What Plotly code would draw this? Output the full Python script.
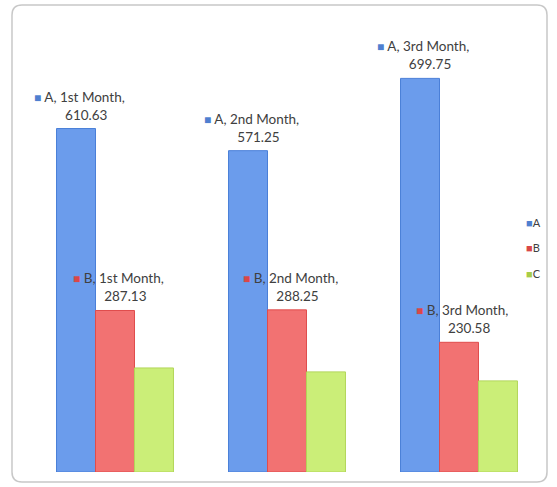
import plotly.graph_objects as go

months = ["1st Month", "2nd Month", "3rd Month"]
series_names = ["A", "B", "C"]
a_vals = [610.63, 571.25, 699.75]
b_vals = [287.13, 288.25, 230.58]
c_vals = [185, 178, 162]
labeled = {"A": True, "B": True, "C": False}

colors = {"A": "#6b9cec", "B": "#f27272", "C": "#cbee78"}
edges = {"A": "#4a7fd8", "B": "#e04c4c", "C": "#b2d65a"}
key_colors = {"A": "#4f7fd0", "B": "#d94848", "C": "#a8cc48"}

W, H = 557, 487
ML, MR, MT, MB = 29, 12, 22, 15
PW, PH = W - ML - MR, H - MT - MB

fig = go.Figure()
vals = {"A": a_vals, "B": b_vals, "C": c_vals}
for name in series_names:
    fig.add_trace(go.Bar(
        x=months, y=vals[name], name=name, showlegend=False,
        marker=dict(color=colors[name], line=dict(color=edges[name], width=1)),
    ))


def px(x, y):
    return (x - ML) / PW, (H - MB - y) / PH


FONT = "Lato, 'Open Sans', sans-serif"
font = dict(family=FONT, size=13.5, color="#404040")
offsets = {"A": -1, "B": 0, "C": 1}
annotations = []
for name in series_names:
    if not labeled[name]:
        continue
    for i, (m, v) in enumerate(zip(months, vals[name])):
        annotations.append(dict(
            x=m, y=v, xref="x", yref="y", yanchor="bottom", xanchor="center",
            xshift=offsets[name] * 39 + 3, yshift=4, showarrow=False,
            text=(f"<span style='color:{key_colors[name]};font-size:12px'>■</span> "
                  f"{name}, {m},<br>\u00a0\u00a0\u00a0\u00a0{v:.2f}"),
            font=font, align="center",
        ))

# legend (drawn as text entries with coloured keys)
for k, name in enumerate(series_names):
    lx, ly = px(524, 222 + k * 25.5)
    annotations.append(dict(
        x=lx, y=ly, xref="paper", yref="paper", xanchor="left", yanchor="middle",
        showarrow=False,
        text=f"<span style='color:{key_colors[name]};font-size:11px'>■</span>{name}",
        font=dict(family=FONT, size=11, color="#404040"),
    ))

x0, y0, x1, y1, r = 12, 5, 547, 482, 10


def P(x, y):
    a, b = px(x, y)
    return f"{a:.5f},{b:.5f}"


path = (f"M{P(x0 + r, y0)} L{P(x1 - r, y0)} Q{P(x1, y0)} {P(x1, y0 + r)} "
        f"L{P(x1, y1 - r)} Q{P(x1, y1)} {P(x1 - r, y1)} L{P(x0 + r, y1)} "
        f"Q{P(x0, y1)} {P(x0, y1 - r)} L{P(x0, y0 + r)} Q{P(x0, y0)} {P(x0 + r, y0)} Z")

fig.update_layout(
    width=W, height=H,
    margin=dict(l=ML, r=MR, t=MT, b=MB, autoexpand=False),
    paper_bgcolor="white", plot_bgcolor="rgba(0,0,0,0)",
    barmode="group", bargap=0.32, bargroupgap=0,
    showlegend=False,
    xaxis=dict(visible=False, range=[-0.5, 2.5]),
    yaxis=dict(visible=False, range=[0, 800]),
    annotations=annotations,
    shapes=[dict(type="path", xref="paper", yref="paper", path=path,
                 line=dict(color="#c8c8c8", width=1.5), layer="below")],
    font=font,
)

fig.write_html("out.html")
